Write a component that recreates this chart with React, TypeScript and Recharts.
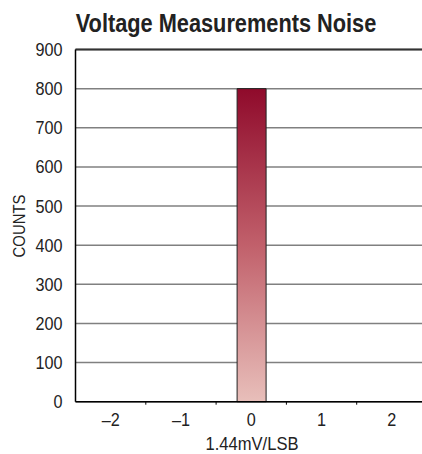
import React from 'react';
import { BarChart, Bar, XAxis, YAxis, CartesianGrid, ReferenceLine } from 'recharts';

const categories = ['–2', '–1', '0', '1', '2'];
const counts = [0, 0, 800, 0, 0];
const yTicks = [0, 100, 200, 300, 400, 500, 600, 700, 800, 900];

const data = categories.map((c, i) => ({ code: c, count: counts[i] }));

// no narrow font installed, so Liberation Sans squeezed horizontally
const FONT = '"Liberation Sans", Arial, sans-serif';
const SQUEEZE = 0.9;
const CHART_W = 430;
const CHART_H = 454;
const MARGIN = { top: 49.5, right: 3, bottom: 12.3, left: 15.5 };
const Y_W = 60;
const BAND = (CHART_W - MARGIN.right - MARGIN.left - Y_W) / categories.length;

// label in the middle of the band, tick mark on its left edge
const XTick = (props: any) => {
  const { x, y, payload, index } = props;
  return (
    <g>
      {index > 0 && (
        <line x1={x - BAND / 2} x2={x - BAND / 2} y1={y} y2={y + 3} stroke="#000" strokeWidth={1} />
      )}
      <g transform={`translate(${x},${y + 24.5}) scale(${SQUEEZE},1)`}>
        <text x={0} y={0} textAnchor="middle" fill="#222" fontSize={18} fontFamily={FONT}>
          {payload.value}
        </text>
      </g>
    </g>
  );
};

const YTick = (props: any) => {
  const { x, y, payload } = props;
  return (
    <g transform={`translate(${x},${y + 6.5}) scale(${SQUEEZE},1)`}>
      <text x={0} y={0} textAnchor="end" fill="#222" fontSize={18} fontFamily={FONT}>
        {payload.value}
      </text>
    </g>
  );
};

const App: React.FC = () => {
  return (
    <div
      style={{
        position: 'relative',
        width: 422,
        height: CHART_H,
        overflow: 'hidden',
        fontFamily: FONT,
        color: '#222',
      }}
    >
      <style>{'body{margin:0}'}</style>
      <div
        style={{
          position: 'absolute',
          left: 226,
          top: 10.8,
          transform: 'translateX(-50%) scaleX(0.87)',
          whiteSpace: 'nowrap',
          fontSize: 25,
          fontWeight: 'bold',
          lineHeight: 1,
        }}
      >
        Voltage Measurements Noise
      </div>
      <div
        style={{
          position: 'absolute',
          left: 20,
          top: 226,
          transform: 'translate(-50%, -50%) rotate(-90deg) scaleX(0.93)',
          whiteSpace: 'nowrap',
          fontSize: 16,
          lineHeight: 1,
        }}
      >
        COUNTS
      </div>
      <div
        style={{
          position: 'absolute',
          left: 251.5,
          top: 437.4,
          transform: 'translateX(-50%) scaleX(0.92)',
          whiteSpace: 'nowrap',
          fontSize: 18,
          lineHeight: 0.88,
        }}
      >
        1.44mV/LSB
      </div>
      <BarChart width={CHART_W} height={CHART_H} data={data} margin={MARGIN} barCategoryGap={0}>
        <defs>
          <linearGradient id="barFill" x1="0" y1="0" x2="0" y2="1">
            <stop offset="0%" stopColor="#8f0a2b" />
            <stop offset="50%" stopColor="#c1606b" />
            <stop offset="100%" stopColor="#e8bfba" />
          </linearGradient>
        </defs>
        <CartesianGrid vertical={false} stroke="#808080" strokeWidth={1.5} />
        <ReferenceLine y={900} stroke="#333" strokeWidth={2} />
        <XAxis
          dataKey="code"
          interval={0}
          tickSize={0}
          tickMargin={0}
          height={40}
          axisLine={{ stroke: '#000', strokeWidth: 1.5 }}
          tickLine={false}
          tick={<XTick />}
        />
        <YAxis
          width={Y_W}
          domain={[0, 900]}
          ticks={yTicks}
          interval={0}
          tickSize={0}
          tickMargin={13}
          axisLine={{ stroke: '#000', strokeWidth: 1.5 }}
          tickLine={false}
          tick={<YTick />}
        />
        <Bar
          dataKey="count"
          barSize={29}
          fill="url(#barFill)"
          stroke="#222"
          strokeWidth={1}
          isAnimationActive={false}
        />
      </BarChart>
    </div>
  );
};

export default App;
